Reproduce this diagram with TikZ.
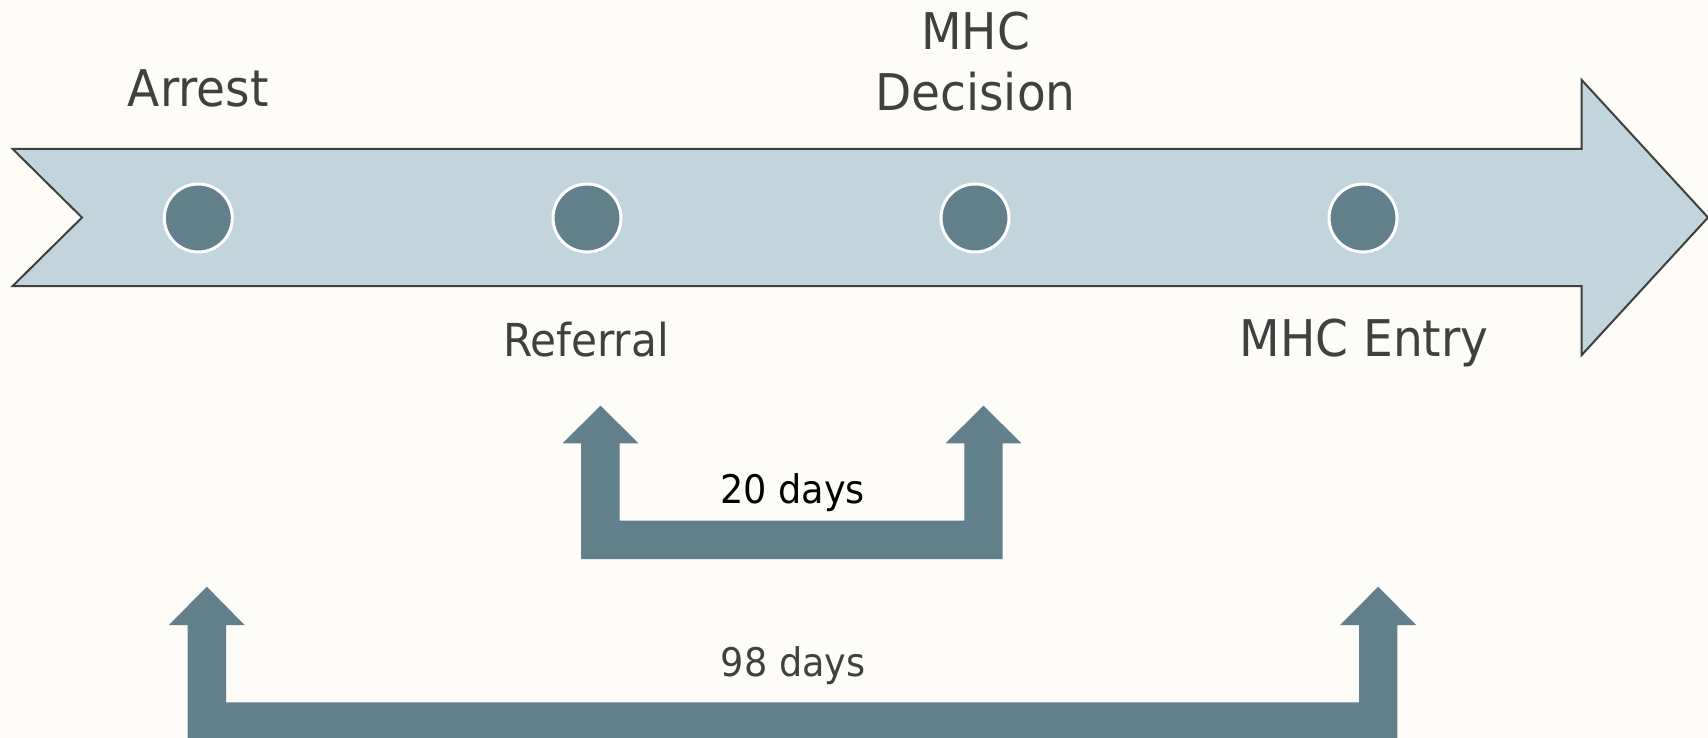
\documentclass[tikz,border=0pt]{standalone}
\usepackage{fontspec}
\setmainfont{DejaVu Sans}[FakeStretch=0.93]
\definecolor{paper}{HTML}{FDFCF8}
\definecolor{band}{HTML}{C2D5DC}
\definecolor{bandline}{HTML}{3F3F3F}
\definecolor{slate}{HTML}{62808C}
\definecolor{ink}{HTML}{404040}
\tikzset{
  milestone/.style={circle, fill=slate, draw=white, line width=1.5pt, minimum size=34pt, inner sep=0pt},
  label/.style={text=ink, inner sep=0pt, anchor=base, font=\fontsize{25.3}{30.8}\selectfont},
  smalllabel/.style={label, font=\fontsize{22.7}{27}\selectfont},
  span/.style={inner sep=0pt, anchor=base, font=\fontsize{19.7}{24}\selectfont},
  bracket/.style={fill=slate, draw=none}
}
\begin{document}
\begin{tikzpicture}[x=0.5pt, y=-0.5pt]
  % canvas
  \fill[paper] (0,0) rectangle (1708,738);
  \useasboundingbox (0,0) rectangle (1708,738);
  \clip (0,0) rectangle (1708,738);

  % timeline band with notched tail and arrow head
  \draw[fill=band, draw=bandline, line width=1pt, line join=miter]
    (12.7,149) -- (1581.7,149) -- (1581.7,80) -- (1708,217.5)
    -- (1581.7,355) -- (1581.7,286) -- (12.7,286) -- (82,217.5) -- cycle;

  % milestones
  \node[milestone] (arrest)   at (198.3,218) {};
  \node[milestone] (referral) at (587,218) {};
  \node[milestone] (decision) at (975,218) {};
  \node[milestone] (entry)    at (1363,218) {};

  % milestone labels
  \node[label] (arrestlbl) at (198.3,106.7) {Arrest};
  \node[label, align=center, anchor=south] (decisionlbl) at (975.5,112) {MHC\\Decision};
  \node[smalllabel] (referrallbl) at (586,356.7) {Referral};
  \node[label] (entrylbl) at (1364,356.7) {MHC Entry};

  % interval: referral to decision
  \fill[bracket]
    (581,559) -- (581,443.3) -- (562.5,443.3) -- (600.5,405.7) -- (638.5,443.3)
    -- (619.7,443.3) -- (619.7,520.7) -- (964.3,520.7) -- (964.3,443.3)
    -- (945.5,443.3) -- (983.5,405.7) -- (1021.5,443.3) -- (1002.7,443.3)
    -- (1002.7,559) -- cycle;
  \node[span, text=black] (shortspan) at (792.5,503.3) {20 days};

  % interval: arrest to entry
  \fill[bracket]
    (187.7,741) -- (187.7,625) -- (169,625) -- (206.8,586.7) -- (244.6,625)
    -- (226,625) -- (226,702.3) -- (1359,702.3) -- (1359,625)
    -- (1340.2,625) -- (1378.2,586.7) -- (1416,625) -- (1397.3,625)
    -- (1397.3,741) -- cycle;
  \node[span, text=ink] (longspan) at (793.3,676.7) {98 days};
\end{tikzpicture}
\end{document}
